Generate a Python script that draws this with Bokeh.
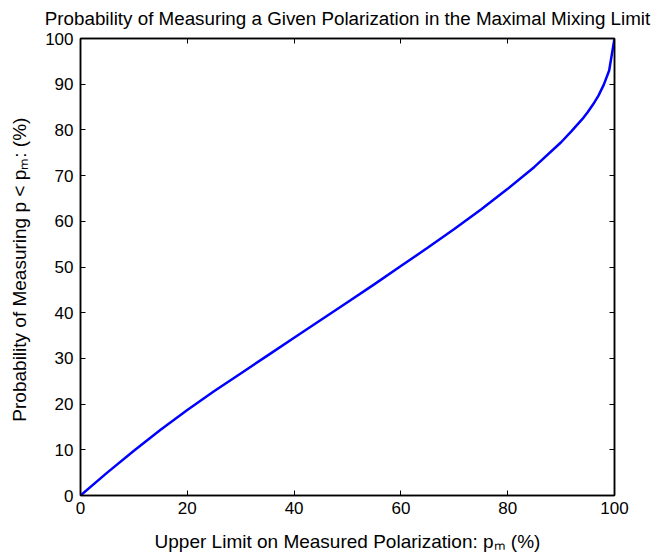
from bokeh.plotting import figure
from bokeh.models import LinearAxis, FixedTicker, Range1d
from bokeh.embed import file_html
from bokeh.resources import INLINE

# ---- data ----
upper_limit = [0, 5, 10, 15, 20, 25, 30, 35, 40, 45, 50, 55, 60, 65, 70, 75,
               80, 85, 90, 92, 94, 95, 96, 97, 98, 99, 100]
probability = [0, 5.0, 9.8, 14.4, 18.7, 22.8, 26.7, 30.6, 34.5, 38.4, 42.3, 46.2,
               50.2, 54.2, 58.3, 62.6, 67.1, 71.9, 77.3, 79.8, 82.4, 83.9, 85.6,
               87.5, 89.9, 93.0, 100]
x_ticks = [0, 20, 40, 60, 80, 100]
y_ticks = [0, 10, 20, 30, 40, 50, 60, 70, 80, 90, 100]

title_text = "Probability of Measuring a Given Polarization in the Maximal Mixing Limit"
x_label = "Upper Limit on Measured Polarization: p\u2098 (%)"
y_label = "Probability of Measuring p < p\u2098:  (%)"

W, H = 656, 560
L, R, T, B = 80, 42, 38, 65
FONT = "Liberation Sans"

p = figure(width=W, height=H, output_backend="svg", toolbar_location=None,
           x_axis_location=None, y_axis_location=None,
           x_range=Range1d(0, 100), y_range=Range1d(0, 100),
           min_border_left=L, min_border_right=R, min_border_top=T, min_border_bottom=B,
           title=title_text)
p.title.text_font = FONT
p.title.text_font_size = "18.8px"
p.title.text_font_style = "normal"
p.title.align = "center"
p.title.vertical_align = "top"
p.title.text_line_height = 0.9
p.title.text_color = "black"
p.title.standoff = 15
p.grid.visible = False
p.outline_line_color = "black"
p.outline_line_width = 1.5
p.background_fill_color = "white"
p.border_fill_color = "white"

def mk_axis(ticks, show_labels, standoff, label=None, label_standoff=10):
    ax = LinearAxis(ticker=FixedTicker(ticks=ticks))
    ax.major_tick_in = 5
    ax.major_tick_out = 0
    ax.minor_tick_line_color = None
    ax.axis_line_color = "black"
    ax.axis_line_width = 1.5
    ax.major_tick_line_color = "black"
    ax.major_tick_line_width = 1
    ax.major_label_text_font = FONT
    ax.major_label_text_font_size = "17px"
    ax.major_label_text_color = "black"
    ax.major_label_standoff = standoff
    if label is not None:
        ax.axis_label = label
        ax.axis_label_text_font = FONT
        ax.axis_label_text_font_size = "19px"
        ax.axis_label_text_font_style = "normal"
        ax.axis_label_text_color = "black"
        ax.axis_label_standoff = label_standoff
    if not show_labels:
        ax.major_label_text_alpha = 0
        ax.major_label_text_font_size = "0px"
    return ax

p.add_layout(mk_axis(x_ticks, True, 6, x_label, 14), "below")
p.add_layout(mk_axis(y_ticks, True, 7, y_label, 12), "left")
p.add_layout(mk_axis(x_ticks, False, 0), "above")
p.add_layout(mk_axis(y_ticks, False, 0), "right")

p.line(upper_limit, probability, line_color="#0000ff", line_width=2.5)

open("out.html", "w").write(file_html(p, INLINE))
